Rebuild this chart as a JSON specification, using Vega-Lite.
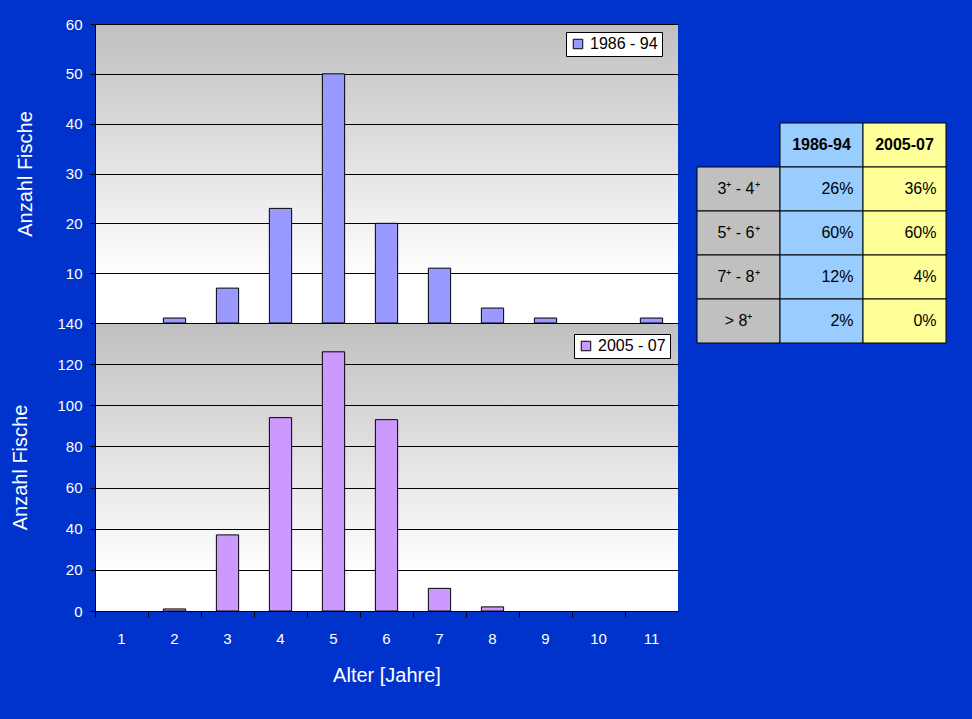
{
  "$schema": "https://vega.github.io/schema/vega-lite/v6.json",
  "width": 583,
  "height": 587,
  "autosize": {"type": "none"},
  "padding": {"left": 95, "top": 24, "right": 294, "bottom": 108},
  "background": "#0033CC",
  "config": {
    "font": "Liberation Sans",
    "view": {"stroke": null}
  },
  "view": {
    "stroke": null,
    "fill": {
      "gradient": "linear", "x1": 0, "y1": 0, "x2": 0, "y2": 1,
      "stops": [
        {"offset": 0, "color": "#C0C0C0"},
        {"offset": 0.43, "color": "#FFFFFF"},
        {"offset": 0.509, "color": "#FFFFFF"},
        {"offset": 0.5095, "color": "#C0C0C0"},
        {"offset": 0.93, "color": "#FFFFFF"},
        {"offset": 1, "color": "#FFFFFF"}
      ]
    }
  },
  "datasets": {
    "top": [
      {"Alter": 2, "Anzahl": 1, "Periode": "1986 - 94"},
      {"Alter": 3, "Anzahl": 7, "Periode": "1986 - 94"},
      {"Alter": 4, "Anzahl": 23, "Periode": "1986 - 94"},
      {"Alter": 5, "Anzahl": 50, "Periode": "1986 - 94"},
      {"Alter": 6, "Anzahl": 20, "Periode": "1986 - 94"},
      {"Alter": 7, "Anzahl": 11, "Periode": "1986 - 94"},
      {"Alter": 8, "Anzahl": 3, "Periode": "1986 - 94"},
      {"Alter": 9, "Anzahl": 1, "Periode": "1986 - 94"},
      {"Alter": 11, "Anzahl": 1, "Periode": "1986 - 94"}
    ],
    "bottom": [
      {"Alter": 2, "Anzahl": 1, "Periode": "2005 - 07"},
      {"Alter": 3, "Anzahl": 37, "Periode": "2005 - 07"},
      {"Alter": 4, "Anzahl": 94, "Periode": "2005 - 07"},
      {"Alter": 5, "Anzahl": 126, "Periode": "2005 - 07"},
      {"Alter": 6, "Anzahl": 93, "Periode": "2005 - 07"},
      {"Alter": 7, "Anzahl": 11, "Periode": "2005 - 07"},
      {"Alter": 8, "Anzahl": 2, "Periode": "2005 - 07"}
    ],
    "table": [
      {"Spalte": "1986-94", "Zeile": "Kopf", "Text": "1986-94", "Typ": "header"},
      {"Spalte": "2005-07", "Zeile": "Kopf", "Text": "2005-07", "Typ": "header"},
      {"Spalte": "Alter", "Zeile": "3-4", "Text": "3⁺ - 4⁺", "Typ": "label"},
      {"Spalte": "1986-94", "Zeile": "3-4", "Text": "26%", "Typ": "value"},
      {"Spalte": "2005-07", "Zeile": "3-4", "Text": "36%", "Typ": "value"},
      {"Spalte": "Alter", "Zeile": "5-6", "Text": "5⁺ - 6⁺", "Typ": "label"},
      {"Spalte": "1986-94", "Zeile": "5-6", "Text": "60%", "Typ": "value"},
      {"Spalte": "2005-07", "Zeile": "5-6", "Text": "60%", "Typ": "value"},
      {"Spalte": "Alter", "Zeile": "7-8", "Text": "7⁺ - 8⁺", "Typ": "label"},
      {"Spalte": "1986-94", "Zeile": "7-8", "Text": "12%", "Typ": "value"},
      {"Spalte": "2005-07", "Zeile": "7-8", "Text": "4%", "Typ": "value"},
      {"Spalte": "Alter", "Zeile": ">8", "Text": "> 8⁺", "Typ": "label"},
      {"Spalte": "1986-94", "Zeile": ">8", "Text": "2%", "Typ": "value"},
      {"Spalte": "2005-07", "Zeile": ">8", "Text": "0%", "Typ": "value"}
    ]
  },
  "layer": [
    {
      "data": {"name": "top"},
      "mark": {"type": "bar", "stroke": "#000000", "strokeWidth": 1, "width": {"band": 0.42}},
      "encoding": {
        "x": {"field": "Alter", "type": "ordinal",
              "scale": {"domain": [1,2,3,4,5,6,7,8,9,10,11], "paddingInner": 0, "paddingOuter": 0},
              "axis": null},
        "y": {"field": "Anzahl", "type": "quantitative",
              "scale": {"domain": [0, 60], "range": [299, 0], "nice": false, "zero": true},
              "axis": {"orient": "left", "values": [10,20,30,40,50,60], "title": "Anzahl Fische",
                       "titleColor": "#FFFFFF", "titleFontSize": 20, "titleFontWeight": "normal", "titlePadding": 30,
                       "titleFont": "Liberation Sans",
                       "labelColor": "#FFFFFF", "labelFontSize": 15, "labelPadding": 8, "labelFont": "Liberation Sans",
                       "tickColor": "#000000", "tickSize": 5, "domainColor": "#000000",
                       "grid": true, "gridColor": "#000000", "gridOpacity": 1}},
        "color": {"field": "Periode", "type": "nominal",
                  "scale": {"domain": ["1986 - 94"], "range": ["#9999FF"]},
                  "legend": {"orient": "none", "legendX": 471, "legendY": 8, "title": null,
                             "fillColor": "#FFFFFF", "strokeColor": "#000000", "padding": 4,
                             "symbolType": "square", "symbolSize": 90, "symbolStrokeColor": "#000000", "symbolStrokeWidth": 1,
                             "labelColor": "#000000", "labelFontSize": 16, "labelFont": "Liberation Sans", "labelOffset": 4}}
      }
    },
    {
      "data": {"name": "bottom"},
      "mark": {"type": "bar", "stroke": "#000000", "strokeWidth": 1, "width": {"band": 0.42}},
      "encoding": {
        "x": {"field": "Alter", "type": "ordinal",
              "scale": {"domain": [1,2,3,4,5,6,7,8,9,10,11], "paddingInner": 0, "paddingOuter": 0},
              "axis": {"orient": "bottom", "title": "Alter [Jahre]", "bandPosition": 0, "labelOffset": 0,
                       "labelAngle": 0, "labelColor": "#FFFFFF", "labelFontSize": 15, "labelPadding": 14,
                       "labelFont": "Liberation Sans",
                       "titleColor": "#FFFFFF", "titleFontSize": 20, "titleFontWeight": "normal", "titlePadding": 19,
                       "titleFont": "Liberation Sans",
                       "tickColor": "#000000", "tickSize": 6, "domainColor": "#000000", "grid": false}},
        "y": {"field": "Anzahl", "type": "quantitative",
              "scale": {"domain": [0, 140], "range": [587, 299], "nice": false, "zero": true},
              "axis": {"orient": "left", "values": [0,20,40,60,80,100,120,140], "title": "Anzahl Fische",
                       "titleColor": "#FFFFFF", "titleFontSize": 20, "titleFontWeight": "normal", "titlePadding": 26,
                       "titleFont": "Liberation Sans",
                       "labelColor": "#FFFFFF", "labelFontSize": 15, "labelPadding": 8, "labelFont": "Liberation Sans",
                       "tickColor": "#000000", "tickSize": 5, "domainColor": "#000000",
                       "grid": true, "gridColor": "#000000", "gridOpacity": 1}},
        "color": {"field": "Periode", "type": "nominal",
                  "scale": {"domain": ["2005 - 07"], "range": ["#CC99FF"]},
                  "legend": {"orient": "none", "legendX": 479, "legendY": 310, "title": null,
                             "fillColor": "#FFFFFF", "strokeColor": "#000000", "padding": 4,
                             "symbolType": "square", "symbolSize": 90, "symbolStrokeColor": "#000000", "symbolStrokeWidth": 1,
                             "labelColor": "#000000", "labelFontSize": 16, "labelFont": "Liberation Sans", "labelOffset": 4}}
      }
    },
    {
      "data": {"name": "table"},
      "mark": {"type": "rect", "stroke": "#000000", "strokeWidth": 1},
      "encoding": {
        "x": {"field": "Spalte", "type": "nominal",
              "scale": {"domain": ["Alter", "1986-94", "2005-07"], "range": [602, 851], "paddingInner": 0, "paddingOuter": 0},
              "axis": null},
        "y": {"field": "Zeile", "type": "nominal",
              "scale": {"domain": ["Kopf", "3-4", "5-6", "7-8", ">8"], "range": [99, 319], "paddingInner": 0, "paddingOuter": 0},
              "axis": null},
        "color": {"field": "Spalte", "type": "nominal",
                  "scale": {"domain": ["Alter", "1986-94", "2005-07"], "range": ["#C0C0C0", "#99CCFF", "#FFFF99"]},
                  "legend": null}
      }
    },
    {
      "data": {"name": "table"},
      "transform": [{"filter": "datum.Typ === 'header'"}],
      "mark": {"type": "text", "align": "center", "baseline": "middle", "fontSize": 16, "fontWeight": "bold",
               "font": "Liberation Sans", "color": "#000000"},
      "encoding": {
        "x": {"field": "Spalte", "type": "nominal",
              "scale": {"domain": ["Alter", "1986-94", "2005-07"], "range": [602, 851], "paddingInner": 0, "paddingOuter": 0},
              "axis": null},
        "y": {"field": "Zeile", "type": "nominal",
              "scale": {"domain": ["Kopf", "3-4", "5-6", "7-8", ">8"], "range": [99, 319], "paddingInner": 0, "paddingOuter": 0},
              "axis": null},
        "text": {"field": "Text", "type": "nominal"}
      }
    },
    {
      "data": {"name": "table"},
      "transform": [{"filter": "datum.Typ === 'label'"}],
      "mark": {"type": "text", "align": "center", "baseline": "middle", "fontSize": 16,
               "font": "Liberation Sans", "color": "#000000"},
      "encoding": {
        "x": {"field": "Spalte", "type": "nominal",
              "scale": {"domain": ["Alter", "1986-94", "2005-07"], "range": [602, 851], "paddingInner": 0, "paddingOuter": 0},
              "axis": null},
        "y": {"field": "Zeile", "type": "nominal",
              "scale": {"domain": ["Kopf", "3-4", "5-6", "7-8", ">8"], "range": [99, 319], "paddingInner": 0, "paddingOuter": 0},
              "axis": null},
        "text": {"field": "Text", "type": "nominal"}
      }
    },
    {
      "data": {"name": "table"},
      "transform": [{"filter": "datum.Typ === 'value'"}],
      "mark": {"type": "text", "align": "right", "baseline": "middle", "fontSize": 16, "xOffset": 32,
               "font": "Liberation Sans", "color": "#000000"},
      "encoding": {
        "x": {"field": "Spalte", "type": "nominal",
              "scale": {"domain": ["Alter", "1986-94", "2005-07"], "range": [602, 851], "paddingInner": 0, "paddingOuter": 0},
              "axis": null},
        "y": {"field": "Zeile", "type": "nominal",
              "scale": {"domain": ["Kopf", "3-4", "5-6", "7-8", ">8"], "range": [99, 319], "paddingInner": 0, "paddingOuter": 0},
              "axis": null},
        "text": {"field": "Text", "type": "nominal"}
      }
    }
  ],
  "resolve": {"scale": {"x": "independent", "y": "independent", "color": "independent"}}
}
